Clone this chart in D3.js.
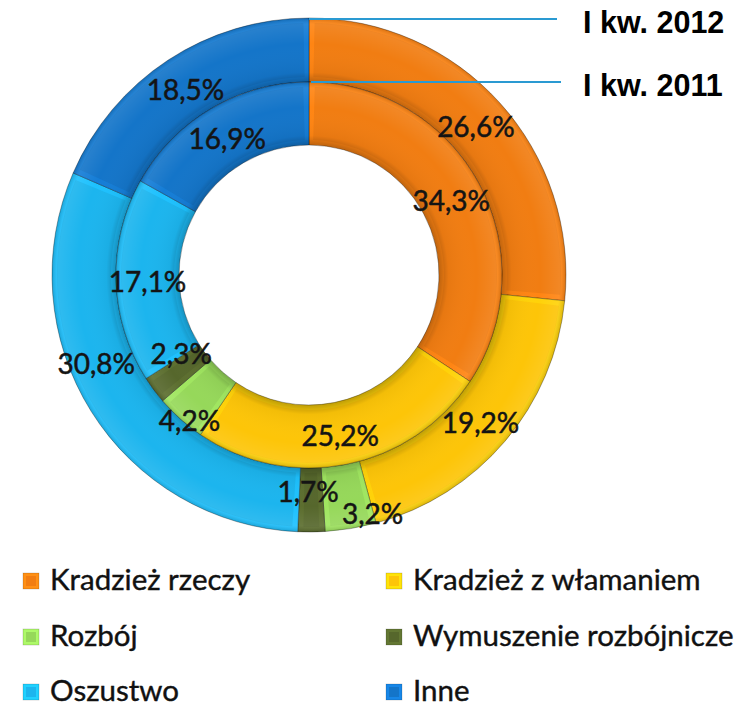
<!DOCTYPE html>
<html>
<head>
<meta charset="utf-8">
<script src="https://cdn.jsdelivr.net/npm/d3@7/dist/d3.min.js"></script>
<style>
  html, body { margin: 0; padding: 0; background: #ffffff; }
  svg { display: block; }
</style>
</head>
<body>
<svg id="chart" width="752" height="706"></svg>
<script>
// Offence categories
const categories = [
  "Kradzież rzeczy",
  "Kradzież z włamaniem",
  "Rozbój",
  "Wymuszenie rozbójnicze",
  "Oszustwo",
  "Inne"
];
// Shares (%) per period
const values2011 = [34.3, 25.2, 4.2, 2.3, 17.1, 16.9];
const values2012 = [26.6, 19.2, 3.2, 1.7, 30.8, 18.5];
// Ring titles
const periodLabels = ["I kw. 2012", "I kw. 2011"];

const colors = ["#f17d12", "#fdc508", "#96d85a", "#56672c", "#1cb5ee", "#1475c9"];

// Layout
const cx = 309, cy = 275;
const rings = [
  { key: "2012", values: values2012, r0: 193, r1: 257 },
  { key: "2011", values: values2011, r0: 130, r1: 193 }
];
// Label nudges for the thin slices (ring key -> index -> [dx, dy])
const labelNudge = {
  "2012": { 2: [27, 14], 3: [-3, -11], 4: [-22, -33] },
  "2011": { 2: [-12, 23], 3: [2, -20] }
};

const svg = d3.select("#chart");
const defs = svg.append("defs");
const fmt = v => d3.format(".1f")(v).replace(".", ",") + "%";
const pie = d3.pie().sort(null).value(d => d);

const g = svg.append("g").attr("transform", `translate(${cx},${cy})`);
const segLayer = g.append("g");
const labelLayer = g.append("g");

rings.forEach(ring => {
  // radial shading across the band: darker inner edge, lighter outer rim
  const gradId = "shade" + ring.key;
  const f0 = ring.r0 / ring.r1;
  const grad = defs.append("radialGradient")
    .attr("id", gradId)
    .attr("gradientUnits", "userSpaceOnUse")
    .attr("cx", 0).attr("cy", 0).attr("r", ring.r1);
  grad.append("stop").attr("offset", f0).attr("stop-color", "#000").attr("stop-opacity", 0.25);
  grad.append("stop").attr("offset", f0 + (1 - f0) * 0.15).attr("stop-color", "#000").attr("stop-opacity", 0.04);
  grad.append("stop").attr("offset", f0 + (1 - f0) * 0.6).attr("stop-color", "#fff").attr("stop-opacity", 0.0);
  grad.append("stop").attr("offset", f0 + (1 - f0) * 0.9).attr("stop-color", "#fff").attr("stop-opacity", 0.08);
  grad.append("stop").attr("offset", 1).attr("stop-color", "#000").attr("stop-opacity", 0.15);

  const arcs = pie(ring.values);
  const outerArc = d3.arc().innerRadius(ring.r0).outerRadius(ring.r1);
  const bevel = 5;
  const insetArc = d3.arc()
    .innerRadius(ring.r0 + bevel)
    .outerRadius(ring.r1 - bevel);

  const seg = segLayer.append("g").selectAll("g.seg").data(arcs).join("g").attr("class", "seg");

  // frame (bevel rim)
  seg.append("path")
    .attr("d", outerArc)
    .attr("fill", (d, i) => d3.color(colors[i]).brighter(0.18))
    .attr("stroke", "rgba(0,0,0,0.4)")
    .attr("stroke-width", 0.8);

  // face of the segment, shrunk a few pixels on every side
  seg.append("path")
    .attr("d", d => {
      const rm = (ring.r0 + ring.r1) / 2;
      const da = Math.min(bevel / rm, (d.endAngle - d.startAngle) / 4);
      return insetArc({ startAngle: d.startAngle + da, endAngle: d.endAngle - da });
    })
    .attr("fill", (d, i) => colors[i]);

  // shading over the whole segment
  seg.append("path")
    .attr("d", outerArc)
    .attr("fill", `url(#${gradId})`);

  // value labels at the centroid of each slice, drawn above all rings
  labelLayer.append("g").selectAll("text").data(arcs).join("text")
    .attr("transform", (d, i) => {
      const [x, y] = outerArc.centroid(d);
      const n = (labelNudge[ring.key] || {})[i] || [0, 0];
      return `translate(${x + n[0]},${y + n[1] + 3})`;
    })
    .attr("text-anchor", "middle")
    .attr("dy", "0.35em")
    .attr("font-family", "Lato, 'Open Sans', sans-serif")
    .attr("font-size", 28)
    .attr("fill", "#141414")
    .attr("stroke", "#141414")
    .attr("stroke-width", 0.5)
    .text(d => fmt(d.data));
});

// leader lines from the top of each ring to its title
const titleYs = [cy - rings[0].r1 + 1, cy - rings[1].r1];
svg.append("g").selectAll("line").data(periodLabels).join("line")
  .attr("x1", (d, i) => cx + (i === 0 ? 0 : 2))
  .attr("x2", (d, i) => i === 0 ? 557 : 561)
  .attr("y1", (d, i) => titleYs[i])
  .attr("y2", (d, i) => titleYs[i])
  .attr("stroke", "#2a9ad2")
  .attr("stroke-width", 2);

svg.append("g").selectAll("text").data(periodLabels).join("text")
  .attr("x", 583)
  .attr("y", (d, i) => titleYs[i] + 14)
  .attr("font-family", "'Liberation Sans', Arial, sans-serif")
  .attr("font-weight", "bold")
  .attr("font-size", 30.5)
  .attr("fill", "#000")
  .text(d => d);

// legend: two columns, three rows
const legend = svg.append("g");
const colX = [23, 386];
const rowY = [573, 629, 684];
const items = legend.selectAll("g").data(categories).join("g")
  .attr("transform", (d, i) => `translate(${colX[i % 2]},${rowY[Math.floor(i / 2)]})`);

items.append("rect")
  .attr("width", 16).attr("height", 16)
  .attr("fill", (d, i) => d3.color(colors[i]).brighter(0.4));
items.append("rect")
  .attr("x", 3).attr("y", 3).attr("width", 10).attr("height", 10)
  .attr("fill", (d, i) => colors[i]);
items.append("rect")
  .attr("width", 16).attr("height", 16)
  .attr("fill", "none")
  .attr("stroke", "rgba(0,0,0,0.25)")
  .attr("stroke-width", 0.6);

items.append("text")
  .attr("x", 27)
  .attr("y", 17)
  .attr("font-family", "Lato, 'Open Sans', sans-serif")
  .attr("font-size", 29.5)
  .attr("fill", "#111")
  .attr("stroke", "#111")
  .attr("stroke-width", 0.4)
  .text(d => d);
</script>
</body>
</html>
